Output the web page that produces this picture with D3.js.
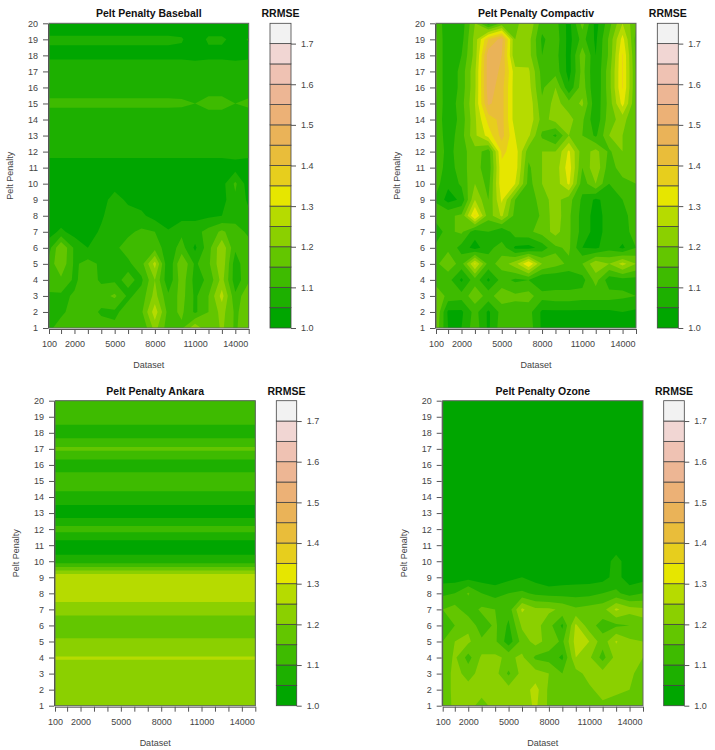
<!DOCTYPE html>
<html>
<head>
<meta charset="utf-8">
<script src="https://cdn.jsdelivr.net/npm/d3@7"></script>
<style>
  html, body { margin: 0; background: #fff; }
  svg { display: block; font-family: "Liberation Sans", Arial, sans-serif; }
  .tick text { fill: #444; font-size: 9px; }
  .tick line, .domain { stroke: #555; }
  .title { font-weight: bold; font-size: 10.5px; fill: #111; text-anchor: middle; }
  .legend-title { font-weight: bold; font-size: 10.5px; fill: #111; text-anchor: middle; }
  .label { font-size: 9px; fill: #444; text-anchor: middle; }
</style>
</head>
<body>
<svg width="715" height="750"></svg>
<script>
const datasets = [100, 1000, 2000, 3000, 4000, 5000, 6000, 7000, 8000, 9000, 10000, 11000, 12000, 13000, 14000, 15000];
const datasetLabels = [100, 2000, 5000, 8000, 11000, 14000];
const penalties = d3.range(1, 21);
const levels = [1.0, 1.05, 1.1, 1.15, 1.2, 1.25, 1.3, 1.35, 1.4, 1.45, 1.5, 1.55, 1.6, 1.65, 1.7];
const legendTicks = [1.0, 1.1, 1.2, 1.3, 1.4, 1.5, 1.6, 1.7];
// terrain.colors(15)
const bandColors = ['#00A600', '#1DB000', '#3EBB00', '#63C600', '#8BD000', '#B6DB00', '#E6E600', '#E7CE1D',
  '#E9BD3A', '#EAB358', '#ECB176', '#EDB694', '#EFC2B3', '#F1D6D3', '#F2F2F2'];

// rows go from penalty 1 to penalty 20, columns follow datasets
const baseball = [
  [1.09, 1.12, 1.13, 1.13, 1.13, 1.11, 1.13, 1.10, 1.22, 1.12, 1.14, 1.24, 1.15, 1.21, 1.14, 1.20],
  [1.08, 1.09, 1.12, 1.13, 1.09, 1.09, 1.12, 1.14, 1.28, 1.13, 1.16, 1.09, 1.15, 1.22, 1.14, 1.18],
  [1.09, 1.09, 1.105, 1.13, 1.13, 1.16, 1.09, 1.12, 1.22, 1.11, 1.17, 1.09, 1.15, 1.27, 1.11, 1.20],
  [1.13, 1.14, 1.09, 1.13, 1.09, 1.09, 1.11, 1.09, 1.20, 1.06, 1.18, 1.08, 1.11, 1.22, 1.07, 1.14],
  [1.12, 1.19, 1.09, 1.12, 1.09, 1.07, 1.09, 1.13, 1.27, 1.05, 1.20, 1.09, 1.14, 1.24, 1.07, 1.15],
  [1.08, 1.20, 1.09, 1.05, 1.08, 1.09, 1.12, 1.13, 1.13, 1.07, 1.12, 1.04, 1.13, 1.24, 1.11, 1.12],
  [1.03, 1.06, 1.03, 1.02, 1.06, 1.08, 1.09, 1.11, 1.10, 1.055, 1.09, 1.08, 1.12, 1.16, 1.12, 1.09],
  [1.02, 1.02, 1.02, 1.02, 1.04, 1.09, 1.07, 1.06, 1.03, 1.02, 1.03, 1.035, 1.04, 1.05, 1.08, 1.06],
  [1.02, 1.02, 1.02, 1.02, 1.03, 1.07, 1.04, 1.03, 1.02, 1.02, 1.02, 1.02, 1.02, 1.03, 1.09, 1.04],
  [1.02, 1.02, 1.02, 1.02, 1.02, 1.03, 1.02, 1.02, 1.02, 1.02, 1.02, 1.02, 1.02, 1.03, 1.11, 1.02],
  [1.02, 1.02, 1.02, 1.02, 1.02, 1.02, 1.02, 1.02, 1.02, 1.02, 1.02, 1.02, 1.02, 1.02, 1.03, 1.02],
  [1.07, 1.07, 1.07, 1.07, 1.07, 1.07, 1.07, 1.07, 1.07, 1.07, 1.07, 1.07, 1.07, 1.07, 1.07, 1.07],
  [1.07, 1.07, 1.07, 1.07, 1.07, 1.07, 1.07, 1.07, 1.07, 1.07, 1.07, 1.07, 1.07, 1.07, 1.07, 1.07],
  [1.06, 1.06, 1.06, 1.06, 1.06, 1.06, 1.06, 1.06, 1.06, 1.06, 1.06, 1.06, 1.06, 1.06, 1.06, 1.06],
  [1.115, 1.115, 1.115, 1.115, 1.115, 1.115, 1.115, 1.115, 1.115, 1.115, 1.112, 1.10, 1.125, 1.125, 1.10, 1.115],
  [1.07, 1.07, 1.07, 1.07, 1.07, 1.07, 1.07, 1.07, 1.07, 1.07, 1.07, 1.07, 1.07, 1.07, 1.07, 1.07],
  [1.08, 1.08, 1.08, 1.08, 1.08, 1.08, 1.08, 1.08, 1.08, 1.08, 1.08, 1.07, 1.08, 1.08, 1.07, 1.08],
  [1.04, 1.04, 1.04, 1.04, 1.04, 1.04, 1.04, 1.04, 1.04, 1.04, 1.04, 1.04, 1.04, 1.04, 1.04, 1.04],
  [1.056, 1.056, 1.056, 1.056, 1.056, 1.056, 1.056, 1.056, 1.056, 1.056, 1.053, 1.03, 1.055, 1.055, 1.04, 1.052],
  [1.03, 1.03, 1.03, 1.03, 1.03, 1.03, 1.03, 1.03, 1.03, 1.03, 1.03, 1.03, 1.03, 1.03, 1.03, 1.03]
];
const compactiv = [
  [1.18, 1.05, 1.05, 1.13, 1.04, 1.13, 1.13, 1.13, 1.04, 1.04, 1.04, 1.04, 1.04, 1.04, 1.04, 1.04],
  [1.20, 1.04, 1.04, 1.12, 1.04, 1.12, 1.13, 1.12, 1.04, 1.04, 1.04, 1.04, 1.04, 1.04, 1.05, 1.04],
  [1.20, 1.13, 1.12, 1.18, 1.13, 1.18, 1.16, 1.17, 1.12, 1.13, 1.13, 1.12, 1.12, 1.12, 1.11, 1.10],
  [1.12, 1.12, 1.04, 1.13, 1.04, 1.12, 1.09, 1.10, 1.05, 1.05, 1.05, 1.08, 1.17, 1.07, 1.08, 1.08],
  [1.14, 1.18, 1.13, 1.31, 1.13, 1.17, 1.23, 1.35, 1.20, 1.17, 1.14, 1.15, 1.24, 1.20, 1.27, 1.20],
  [1.12, 1.14, 1.08, 1.03, 1.08, 1.13, 1.04, 1.03, 1.07, 1.14, 1.16, 1.05, 1.04, 1.08, 1.04, 1.10],
  [1.05, 1.14, 1.16, 1.07, 1.10, 1.05, 1.13, 1.14, 1.17, 1.22, 1.16, 1.08, 1.03, 1.07, 1.08, 1.12],
  [1.14, 1.14, 1.16, 1.36, 1.17, 1.26, 1.13, 1.11, 1.16, 1.23, 1.16, 1.08, 1.03, 1.07, 1.08, 1.13],
  [1.09, 1.03, 1.06, 1.25, 1.15, 1.31, 1.15, 1.11, 1.18, 1.22, 1.17, 1.09, 1.04, 1.07, 1.10, 1.13],
  [1.12, 1.06, 1.11, 1.20, 1.13, 1.34, 1.30, 1.13, 1.20, 1.22, 1.31, 1.12, 1.20, 1.10, 1.13, 1.15],
  [1.14, 1.07, 1.13, 1.18, 1.11, 1.34, 1.33, 1.14, 1.20, 1.22, 1.33, 1.15, 1.24, 1.12, 1.18, 1.15],
  [1.14, 1.08, 1.13, 1.18, 1.12, 1.36, 1.33, 1.17, 1.20, 1.20, 1.31, 1.17, 1.22, 1.14, 1.20, 1.15],
  [1.14, 1.07, 1.13, 1.24, 1.32, 1.42, 1.30, 1.26, 1.14, 1.09, 1.20, 1.15, 1.09, 1.20, 1.20, 1.15],
  [1.14, 1.06, 1.12, 1.24, 1.37, 1.42, 1.27, 1.29, 1.18, 1.22, 1.22, 1.16, 1.06, 1.18, 1.22, 1.15],
  [1.15, 1.06, 1.13, 1.25, 1.46, 1.42, 1.27, 1.29, 1.16, 1.22, 1.17, 1.21, 1.06, 1.17, 1.32, 1.15],
  [1.16, 1.05, 1.12, 1.24, 1.48, 1.42, 1.27, 1.27, 1.14, 1.20, 1.06, 1.18, 1.05, 1.18, 1.355, 1.15],
  [1.16, 1.05, 1.12, 1.24, 1.48, 1.44, 1.27, 1.26, 1.13, 1.13, 1.03, 1.17, 1.05, 1.18, 1.355, 1.15],
  [1.16, 1.05, 1.10, 1.22, 1.48, 1.45, 1.20, 1.22, 1.10, 1.12, 1.03, 1.18, 1.05, 1.16, 1.355, 1.14],
  [1.16, 1.05, 1.08, 1.22, 1.40, 1.47, 1.20, 1.22, 1.09, 1.13, 1.03, 1.12, 1.04, 1.16, 1.32, 1.13],
  [1.14, 1.06, 1.07, 1.20, 1.07, 1.16, 1.18, 1.25, 1.12, 1.12, 1.03, 1.17, 1.03, 1.13, 1.25, 1.16]
];
const ankara = [
  [1.23, 1.23, 1.23, 1.23, 1.23, 1.23, 1.23, 1.23, 1.23, 1.23, 1.23, 1.23, 1.23, 1.23, 1.23, 1.23],
  [1.23, 1.23, 1.23, 1.23, 1.23, 1.23, 1.23, 1.23, 1.23, 1.23, 1.23, 1.23, 1.23, 1.23, 1.23, 1.23],
  [1.23, 1.23, 1.23, 1.23, 1.23, 1.23, 1.23, 1.23, 1.23, 1.23, 1.23, 1.23, 1.23, 1.23, 1.23, 1.23],
  [1.253, 1.253, 1.253, 1.253, 1.253, 1.253, 1.253, 1.253, 1.253, 1.253, 1.253, 1.253, 1.253, 1.253, 1.253, 1.253],
  [1.21, 1.21, 1.21, 1.21, 1.21, 1.21, 1.21, 1.21, 1.21, 1.21, 1.21, 1.21, 1.21, 1.21, 1.21, 1.21],
  [1.16, 1.16, 1.16, 1.16, 1.16, 1.16, 1.16, 1.16, 1.16, 1.16, 1.16, 1.16, 1.16, 1.16, 1.16, 1.16],
  [1.225, 1.225, 1.225, 1.225, 1.225, 1.225, 1.225, 1.225, 1.225, 1.225, 1.225, 1.225, 1.225, 1.225, 1.225, 1.225],
  [1.28, 1.28, 1.28, 1.28, 1.28, 1.28, 1.28, 1.28, 1.28, 1.28, 1.28, 1.28, 1.28, 1.28, 1.28, 1.28],
  [1.295, 1.295, 1.295, 1.295, 1.295, 1.295, 1.295, 1.295, 1.295, 1.295, 1.295, 1.295, 1.295, 1.295, 1.295, 1.295],
  [1.07, 1.07, 1.07, 1.07, 1.07, 1.07, 1.07, 1.07, 1.07, 1.07, 1.07, 1.07, 1.07, 1.07, 1.07, 1.07],
  [1.02, 1.02, 1.02, 1.02, 1.02, 1.02, 1.02, 1.02, 1.02, 1.02, 1.02, 1.02, 1.02, 1.02, 1.02, 1.02],
  [1.12, 1.12, 1.12, 1.12, 1.12, 1.12, 1.12, 1.12, 1.12, 1.12, 1.12, 1.12, 1.12, 1.12, 1.12, 1.12],
  [1.02, 1.02, 1.02, 1.02, 1.02, 1.02, 1.02, 1.02, 1.02, 1.02, 1.02, 1.02, 1.02, 1.02, 1.02, 1.02],
  [1.08, 1.08, 1.08, 1.08, 1.08, 1.08, 1.08, 1.08, 1.08, 1.08, 1.08, 1.08, 1.08, 1.08, 1.08, 1.08],
  [1.135, 1.135, 1.135, 1.135, 1.135, 1.135, 1.135, 1.135, 1.135, 1.135, 1.135, 1.135, 1.135, 1.135, 1.135, 1.135],
  [1.07, 1.07, 1.07, 1.07, 1.07, 1.07, 1.07, 1.07, 1.07, 1.07, 1.07, 1.07, 1.07, 1.07, 1.07, 1.07],
  [1.16, 1.16, 1.16, 1.16, 1.16, 1.16, 1.16, 1.16, 1.16, 1.16, 1.16, 1.16, 1.16, 1.16, 1.16, 1.16],
  [1.07, 1.07, 1.07, 1.07, 1.07, 1.07, 1.07, 1.07, 1.07, 1.07, 1.07, 1.07, 1.07, 1.07, 1.07, 1.07],
  [1.13, 1.13, 1.13, 1.13, 1.13, 1.13, 1.13, 1.13, 1.13, 1.13, 1.13, 1.13, 1.13, 1.13, 1.13, 1.13],
  [1.13, 1.13, 1.13, 1.13, 1.13, 1.13, 1.13, 1.13, 1.13, 1.13, 1.13, 1.13, 1.13, 1.13, 1.13, 1.13]
];
const ozone = [
  [1.15, 1.22, 1.22, 1.18, 1.22, 1.22, 1.22, 1.26, 1.19, 1.17, 1.17, 1.17, 1.19, 1.16, 1.19, 1.16],
  [1.16, 1.22, 1.22, 1.22, 1.22, 1.22, 1.22, 1.27, 1.19, 1.17, 1.17, 1.19, 1.22, 1.22, 1.20, 1.16],
  [1.16, 1.22, 1.18, 1.22, 1.22, 1.14, 1.22, 1.22, 1.20, 1.15, 1.18, 1.22, 1.22, 1.22, 1.22, 1.16],
  [1.16, 1.21, 1.13, 1.21, 1.21, 1.19, 1.21, 1.14, 1.13, 1.09, 1.25, 1.21, 1.13, 1.22, 1.22, 1.20],
  [1.15, 1.20, 1.21, 1.16, 1.16, 1.07, 1.17, 1.22, 1.18, 1.14, 1.27, 1.25, 1.17, 1.255, 1.21, 1.20],
  [1.12, 1.15, 1.19, 1.12, 1.16, 1.09, 1.21, 1.22, 1.17, 1.09, 1.26, 1.17, 1.13, 1.14, 1.15, 1.19],
  [1.15, 1.17, 1.12, 1.16, 1.15, 1.12, 1.26, 1.21, 1.21, 1.19, 1.16, 1.17, 1.18, 1.26, 1.22, 1.21],
  [1.09, 1.10, 1.155, 1.10, 1.08, 1.10, 1.11, 1.09, 1.08, 1.08, 1.08, 1.085, 1.10, 1.11, 1.08, 1.10],
  [1.025, 1.025, 1.03, 1.025, 1.02, 1.035, 1.05, 1.03, 1.01, 1.02, 1.025, 1.025, 1.03, 1.07, 1.02, 1.03],
  [1.02, 1.02, 1.02, 1.02, 1.02, 1.02, 1.02, 1.02, 1.02, 1.02, 1.02, 1.02, 1.02, 1.07, 1.02, 1.02],
  [1.02, 1.02, 1.02, 1.02, 1.02, 1.02, 1.02, 1.02, 1.02, 1.02, 1.02, 1.02, 1.02, 1.02, 1.02, 1.02],
  [1.02, 1.02, 1.02, 1.02, 1.02, 1.02, 1.02, 1.02, 1.02, 1.02, 1.02, 1.02, 1.02, 1.02, 1.02, 1.02],
  [1.02, 1.02, 1.02, 1.02, 1.02, 1.02, 1.02, 1.02, 1.02, 1.02, 1.02, 1.02, 1.02, 1.02, 1.02, 1.02],
  [1.02, 1.02, 1.02, 1.02, 1.02, 1.02, 1.02, 1.02, 1.02, 1.02, 1.02, 1.02, 1.02, 1.02, 1.02, 1.02],
  [1.02, 1.02, 1.02, 1.02, 1.02, 1.02, 1.02, 1.02, 1.02, 1.02, 1.02, 1.02, 1.02, 1.02, 1.02, 1.02],
  [1.02, 1.02, 1.02, 1.02, 1.02, 1.02, 1.02, 1.02, 1.02, 1.02, 1.02, 1.02, 1.02, 1.02, 1.02, 1.02],
  [1.02, 1.02, 1.02, 1.02, 1.02, 1.02, 1.02, 1.02, 1.02, 1.02, 1.02, 1.02, 1.02, 1.02, 1.02, 1.02],
  [1.02, 1.02, 1.02, 1.02, 1.02, 1.02, 1.02, 1.02, 1.02, 1.02, 1.02, 1.02, 1.02, 1.02, 1.02, 1.02],
  [1.02, 1.02, 1.02, 1.02, 1.02, 1.02, 1.02, 1.02, 1.02, 1.02, 1.02, 1.02, 1.02, 1.02, 1.02, 1.02],
  [1.02, 1.02, 1.02, 1.02, 1.02, 1.02, 1.02, 1.02, 1.02, 1.02, 1.02, 1.02, 1.02, 1.02, 1.02, 1.02]
];

// where each panel sits on the page
const panels = [
  { name: 'Baseball', grid: baseball, x0: 49, x1: 248.7, y0: 23.3, y1: 328, lx0: 270, lx1: 291 },
  { name: 'Compactiv', grid: compactiv, x0: 436, x1: 636, y0: 23.3, y1: 328, lx0: 657.3, lx1: 678.3 },
  { name: 'Ankara', grid: ankara, x0: 55, x1: 255.3, y0: 400.7, y1: 705.7, lx0: 276.3, lx1: 296.7 },
  { name: 'Ozone', grid: ozone, x0: 442.7, x1: 643, y0: 400.7, y1: 705.7, lx0: 663.7, lx1: 684.3 }
];

const svg = d3.select('svg');

// contour coordinates count grid cells, this turns them back into dataset values
const cellToDataset = d3.scaleLinear().domain(d3.range(datasets.length)).range(datasets);

panels.forEach((p, i) => {
  const xScale = d3.scaleLinear().domain([100, 15000]).range([p.x0, p.x1]);
  const yScale = d3.scaleLinear().domain([1, 20]).range([p.y1, p.y0]);
  const legendScale = d3.scaleLinear().domain([1, 1.75]).range([p.y1, p.y0]);

  svg.append('clipPath').attr('id', `clip${i}`)
    .append('rect')
    .attr('x', p.x0).attr('y', p.y0)
    .attr('width', p.x1 - p.x0).attr('height', p.y1 - p.y0);

  const contours = d3.contours()
    .size([datasets.length, penalties.length])
    .thresholds(levels)(p.grid.flat());

  const path = d3.geoPath(d3.geoTransform({
    point(x, y) {
      const cx = x - 0.5;
      const dataset = cx < 0 ? datasets[0] + cx * 900 : cx > 15 ? 15000 + (cx - 15) * 1000 : cellToDataset(cx);
      this.stream.point(xScale(dataset), yScale(y + 0.5));
    }
  }));

  svg.append('g')
    .attr('clip-path', `url(#clip${i})`)
    .selectAll('path')
    .data(contours)
    .join('path')
    .attr('d', path)
    .attr('fill', (d, k) => bandColors[k]);

  svg.append('rect')
    .attr('x', p.x0).attr('y', p.y0)
    .attr('width', p.x1 - p.x0).attr('height', p.y1 - p.y0)
    .attr('fill', 'none').attr('stroke', '#666');

  svg.append('g')
    .attr('transform', `translate(0, ${p.y1 + 1})`)
    .call(d3.axisBottom(xScale)
      .tickValues(datasets)
      .tickSize(5)
      .tickSizeOuter(0)
      .tickPadding(7)
      .tickFormat((d) => datasetLabels.includes(d) ? d : ''));

  svg.append('g')
    .attr('transform', `translate(${p.x0 - 1}, 0)`)
    .call(d3.axisLeft(yScale)
      .tickValues(penalties)
      .tickSize(5)
      .tickSizeOuter(0)
      .tickPadding(5)
      .tickFormat(d3.format('d')));

  svg.append('text').attr('class', 'title')
    .attr('x', (p.x0 + p.x1) / 2).attr('y', p.y0 - 6)
    .text(`Pelt Penalty ${p.name}`);

  svg.append('text').attr('class', 'label')
    .attr('x', (p.x0 + p.x1) / 2).attr('y', p.y1 + 40)
    .text('Dataset');

  svg.append('text').attr('class', 'label')
    .attr('transform', `translate(${p.x0 - 36}, ${(p.y0 + p.y1) / 2}) rotate(-90)`)
    .text('Pelt Penalty');

  // legend
  svg.append('g')
    .selectAll('rect')
    .data(levels)
    .join('rect')
    .attr('x', p.lx0)
    .attr('width', p.lx1 - p.lx0)
    .attr('y', (d) => legendScale(d + 0.05))
    .attr('height', (d) => legendScale(d) - legendScale(d + 0.05))
    .attr('fill', (d, k) => bandColors[k])
    .attr('stroke', '#444')
    .attr('stroke-width', 0.8);

  svg.append('g')
    .attr('transform', `translate(${p.lx1}, 0)`)
    .call(d3.axisRight(legendScale)
      .tickValues(legendTicks)
      .tickSize(5)
      .tickSizeOuter(0)
      .tickPadding(5)
      .tickFormat(d3.format('.1f')))
    .call((g) => g.select('.domain').remove());

  svg.append('text').attr('class', 'legend-title')
    .attr('x', (p.lx0 + p.lx1) / 2).attr('y', p.y0 - 6)
    .text('RRMSE');
});
</script>
</body>
</html>
